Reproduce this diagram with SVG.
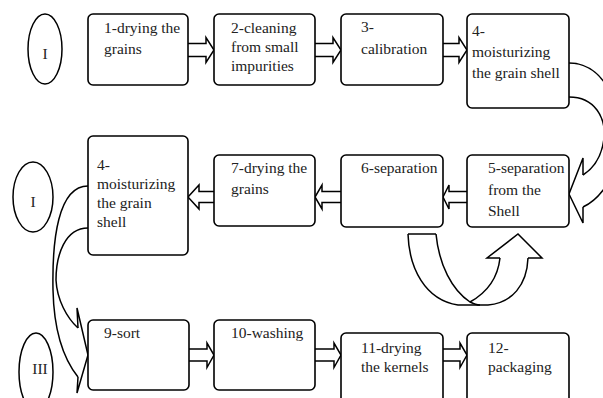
<svg xmlns="http://www.w3.org/2000/svg" width="603" height="398" viewBox="0 0 603 398">
<style>
.box{fill:#fff;stroke:#000;stroke-width:1.6}
.ell{fill:#fff;stroke:#000;stroke-width:1.5}
.t{font-family:"Liberation Serif","Times New Roman",serif;font-size:15.5px;fill:#222}
.tm{font-family:"Liberation Serif","Times New Roman",serif;font-size:15.5px;fill:#222;text-anchor:middle}
.ar{fill:#fff;stroke:#000;stroke-width:1.5;stroke-linejoin:miter}
.cv{fill:none;stroke:#000;stroke-width:1.5}
</style>
<rect width="603" height="398" fill="#fff"/>
<g id="connectors">
<!-- row 1 block arrows -->
<path class="ar" d="M188,43.5 L206,43.5 L206,37.5 L214,50 L206,62.5 L206,56.5 L188,56.5"/>
<path class="ar" d="M315,43.5 L333,43.5 L333,37.5 L341,50 L333,62.5 L333,56.5 L315,56.5"/>
<path class="ar" d="M443,43.5 L459,43.5 L459,37.5 L467,50 L459,62.5 L459,56.5 L443,56.5"/>
<!-- row 2 block arrows (leftward) -->
<path class="ar" d="M467,191.5 L449,191.5 L449,185 L443,197 L449,209 L449,202.5 L467,202.5"/>
<path class="ar" d="M341,191.5 L322,191.5 L322,185 L315,197 L322,209 L322,202.5 L341,202.5"/>
<path class="ar" d="M214,191.5 L199,191.5 L199,185 L188,197 L199,209 L199,202.5 L214,202.5"/>
<!-- row 3 block arrows -->
<path class="ar" d="M189,349 L207,349 L207,343 L214,355 L207,367.5 L207,361 L189,361"/>
<path class="ar" d="M315,349 L334,349 L334,343 L341,355 L334,367.5 L334,361 L315,361"/>
<path class="ar" d="M443,349 L460,349 L460,343 L467,355 L460,367.5 L460,361 L443,361"/>
<!-- curved arrow box4 -> box5 -->
<path class="cv" d="M569,63 C610,63 625,120 620,150 C615,180 598,200 583,207"/>
<path class="cv" d="M569,97 C595,97 606,118 604,138 C602,156 594,168 583,175"/>
<path class="cv" d="M583,175 L583,158 L569,194 L583,223 L583,207"/>
<!-- curved arrow box4b -> box9 -->
<path class="cv" d="M88,186 C58,186 52,240 53,290 C54,335 66,362 78,377"/>
<path class="cv" d="M88,228 C65,228 56,255 56,280 C57,300 67,318 78,328"/>
<path class="cv" d="M78,328 L77,308 L88,355 L77,393 L78,377"/>
<!-- U-turn arrow under boxes 6/5 -->
<path class="cv" d="M408,234 L436,234"/>
<path class="cv" d="M408,234 C409,268 425,300 458,305 L488,305 C512,303 527,285 528,258"/>
<path class="cv" d="M436,234 C439,265 452,290 470,302 C474,304 477,305 480,305"/>
<path class="cv" d="M500,258 C498,276 488,292 470,302"/>
<path class="cv" d="M500,258 L487,258 L518,234 L542,258 L528,258"/>
</g>
<g id="ellipse1"><ellipse class="ell" cx="45" cy="49" rx="17" ry="35"/><text class="tm" x="45" y="59">I</text></g>
<g id="ellipse2"><ellipse class="ell" cx="33" cy="197" rx="20" ry="35"/><text class="tm" x="33" y="207">I</text></g>
<g id="ellipse3"><ellipse class="ell" cx="36" cy="372" rx="17" ry="39"/><text class="tm" x="40" y="374">III</text></g>
<g id="box1"><rect class="box" x="88" y="14" width="100" height="71" rx="5"/><text class="t" x="104" y="33">1-drying the</text><text class="t" x="104" y="54">grains</text></g>
<g id="box2"><rect class="box" x="214" y="14" width="101" height="71" rx="5"/><text class="t" x="231" y="33">2-cleaning</text><text class="t" x="231" y="52">from small</text><text class="t" x="231" y="71">impurities</text></g>
<g id="box3"><rect class="box" x="341" y="14" width="102" height="71" rx="5"/><text class="t" x="361" y="32">3-</text><text class="t" x="361" y="54">calibration</text></g>
<g id="box4"><rect class="box" x="467" y="14" width="102" height="94" rx="5"/><text class="t" x="472" y="36">4-</text><text class="t" x="472" y="57">moisturizing</text><text class="t" x="472" y="78">the grain shell</text></g>
<g id="box4b"><rect class="box" x="88" y="136" width="100" height="119" rx="5"/><text class="t" x="97" y="170">4-</text><text class="t" x="97" y="189">moisturizing</text><text class="t" x="97" y="208">the grain</text><text class="t" x="97" y="227">shell</text></g>
<g id="box7"><rect class="box" x="214" y="155" width="101" height="71" rx="5"/><text class="t" x="231" y="173">7-drying the</text><text class="t" x="231" y="194">grains</text></g>
<g id="box6"><rect class="box" x="341" y="155" width="102" height="72" rx="5"/><text class="t" x="361" y="173">6-separation</text></g>
<g id="box5"><rect class="box" x="467" y="155" width="102" height="72" rx="5"/><text class="t" x="488" y="173">5-separation</text><text class="t" x="488" y="195">from the</text><text class="t" x="488" y="216">Shell</text></g>
<g id="box9"><rect class="box" x="88" y="320" width="101" height="70" rx="5"/><text class="t" x="104" y="338">9-sort</text></g>
<g id="box10"><rect class="box" x="214" y="320" width="101" height="70" rx="5"/><text class="t" x="231" y="338">10-washing</text></g>
<g id="box11"><rect class="box" x="341" y="333" width="102" height="80" rx="5"/><text class="t" x="361" y="353">11-drying</text><text class="t" x="361" y="372">the kernels</text></g>
<g id="box12"><rect class="box" x="467" y="333" width="102" height="80" rx="5"/><text class="t" x="488" y="353">12-</text><text class="t" x="488" y="372">packaging</text></g>
</svg>
